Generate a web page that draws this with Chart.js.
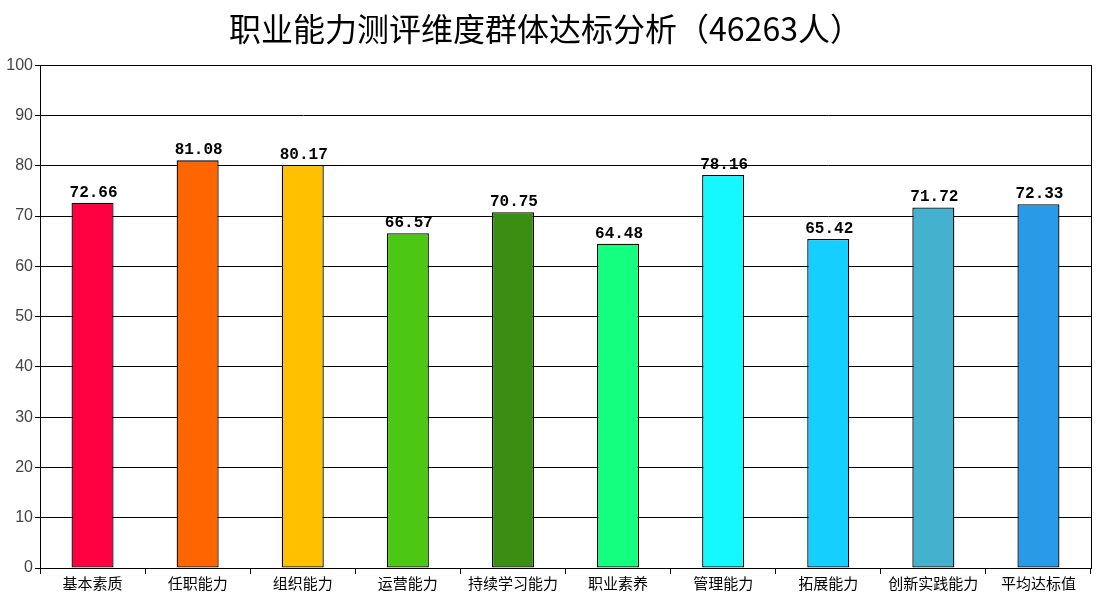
<!DOCTYPE html>
<html>
<head>
<meta charset="utf-8">
<script src="https://cdn.jsdelivr.net/npm/chart.js@4/dist/chart.umd.min.js"></script>
<style>
  html, body { margin: 0; padding: 0; background: #fff; }
  #grafico { display: block; }
</style>
</head>
<body>
<canvas id="grafico" width="1100" height="600"></canvas>
<script>
// datos
const categorias = ['基本素质', '任职能力', '组织能力', '运营能力', '持续学习能力', '职业素养', '管理能力', '拓展能力', '创新实践能力', '平均达标值'];
const valores = [72.66, 81.08, 80.17, 66.57, 70.75, 64.48, 78.16, 65.42, 71.72, 72.33];
const colores = ['#FF0040', '#FF6600', '#FFC000', '#4CC814', '#3A8F12', '#14FF80', '#14F8FF', '#14CFFF', '#44B2CE', '#289AE8'];
const titulo = '职业能力测评维度群体达标分析（46263人）';

// etiquetas de valor encima de cada barra
const etiquetasValor = {
  id: 'etiquetasValor',
  afterDatasetsDraw(chart) {
    const ctx = chart.ctx;
    const meta = chart.getDatasetMeta(0);
    ctx.save();
    ctx.fillStyle = '#000';
    ctx.font = 'bold 16px "Liberation Mono", monospace';
    ctx.textAlign = 'center';
    ctx.textBaseline = 'bottom';
    meta.data.forEach((bar, i) => {
      ctx.fillText(valores[i].toFixed(2), bar.x + 1, bar.y - 2);
    });
    ctx.restore();
  }
};

// marco completo del área de trazado
const marco = {
  id: 'marco',
  afterDraw(chart) {
    const a = chart.chartArea;
    const ctx = chart.ctx;
    ctx.save();
    ctx.strokeStyle = '#000';
    ctx.lineWidth = 1;
    ctx.strokeRect(Math.round(a.left) + 0.5, Math.round(a.top) + 0.5, Math.round(a.right - a.left), Math.round(a.bottom - a.top));
    ctx.restore();
  }
};

const ctx = document.getElementById('grafico').getContext('2d');
new Chart(ctx, {
  type: 'bar',
  data: {
    labels: categorias,
    datasets: [{
      data: valores,
      backgroundColor: colores,
      borderColor: '#000',
      borderWidth: 1.3,
      borderSkipped: false,
      barPercentage: 0.4,
      categoryPercentage: 1
    }]
  },
  options: {
    responsive: false,
    animation: false,
    devicePixelRatio: 1,
    layout: { padding: { left: 0, right: 9, top: 0, bottom: 0 } },
    plugins: {
      legend: { display: false },
      tooltip: { enabled: false },
      title: {
        display: true,
        text: titulo,
        color: '#000',
        font: { family: '"Noto Sans CJK SC", sans-serif', size: 32, weight: 'normal', lineHeight: 1.1 },
        padding: { top: 11, bottom: 19 }
      }
    },
    scales: {
      x: {
        grid: { offset: true, drawOnChartArea: false, color: '#000', tickLength: 6 },
        border: { color: '#000' },
        ticks: { color: '#000', font: { family: '"Noto Sans CJK SC", sans-serif', size: 15 }, padding: 0, maxRotation: 0, autoSkip: false },
        afterFit(scale) { scale.height = 32; }
      },
      y: {
        min: 0,
        max: 100,
        ticks: { stepSize: 10, color: '#444', font: { family: '"Liberation Sans", sans-serif', size: 16 }, padding: 2 },
        grid: { color: '#000', tickLength: 5 },
        border: { color: '#000' },
        afterFit(scale) { scale.width = 40; }
      }
    }
  },
  plugins: [etiquetasValor, marco]
});
</script>
</body>
</html>
